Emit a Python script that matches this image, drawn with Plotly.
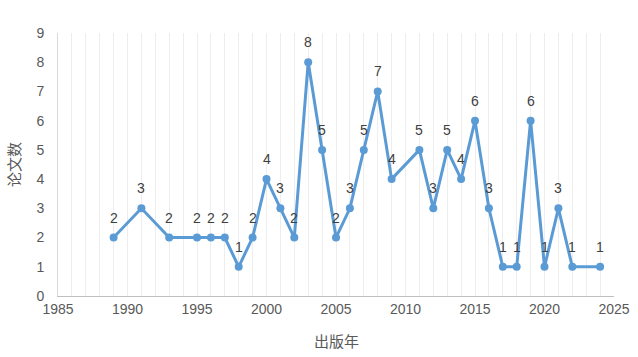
import plotly.graph_objects as go

years = [1989, 1991, 1993, 1995, 1996, 1997, 1998, 1999, 2000, 2001, 2002, 2003, 2004,
         2005, 2006, 2007, 2008, 2009, 2011, 2012, 2013, 2014, 2015, 2016, 2017, 2018,
         2019, 2020, 2021, 2022, 2024]
counts = [2, 3, 2, 2, 2, 2, 1, 2, 4, 3, 2, 8, 5,
          2, 3, 5, 7, 4, 5, 3, 5, 4, 6, 3, 1, 1,
          6, 1, 3, 1, 1]
x_ticks = [1985, 1990, 1995, 2000, 2005, 2010, 2015, 2020, 2025]
y_ticks = list(range(0, 10))

fig = go.Figure()
fig.add_trace(go.Scatter(
    x=years, y=counts, mode="lines+markers",
    line=dict(color="#5B9BD5", width=3),
    marker=dict(color="#5B9BD5", size=8),
    hoverinfo="skip", showlegend=False,
))

annotations = [
    dict(x=x, y=y, text=str(y), showarrow=False, yshift=20,
         font=dict(family="Liberation Sans, Arial", size=14, color="#404040"))
    for x, y in zip(years, counts)
]
annotations.append(dict(
    xref="paper", yref="paper", x=0.5, y=-0.17, yanchor="middle", xanchor="center",
    text="出版年", showarrow=False,
    font=dict(family="Noto Sans CJK SC", size=15, color="#595959")))
annotations.append(dict(
    xref="paper", yref="paper", x=-0.08, y=0.5, yanchor="middle", xanchor="center",
    text="论文数", showarrow=False, textangle=-90,
    font=dict(family="Noto Sans CJK SC", size=15, color="#595959")))

fig.update_layout(
    width=638, height=357,
    margin=dict(l=58, r=24, t=33, b=61),
    paper_bgcolor="white", plot_bgcolor="white",
    annotations=annotations,
    xaxis=dict(
        range=[1985, 2025], tickvals=x_ticks, ticktext=[str(v) for v in x_ticks],
        showgrid=True, gridcolor="#EDEDED", gridwidth=1,
        minor=dict(dtick=1, tick0=1985, showgrid=True, gridcolor="#EDEDED", gridwidth=1),
        showline=True, linecolor="#BFBFBF", linewidth=1,
        ticks="", zeroline=False, automargin=False,
        tickfont=dict(family="Liberation Sans, Arial", size=14, color="#595959"),
    ),
    yaxis=dict(
        range=[0, 9], tickvals=y_ticks, ticktext=[str(v) for v in y_ticks],
        showgrid=False, zeroline=False, automargin=False,
        showline=True, linecolor="#D9D9D9", linewidth=1,
        ticks="", ticklabelstandoff=10,
        tickfont=dict(family="Liberation Sans, Arial", size=14, color="#595959"),
    ),
)

fig.write_html("out.html", config={"displayModeBar": False},
               post_script="document.body.style.margin='0';document.body.style.overflow='hidden';")
